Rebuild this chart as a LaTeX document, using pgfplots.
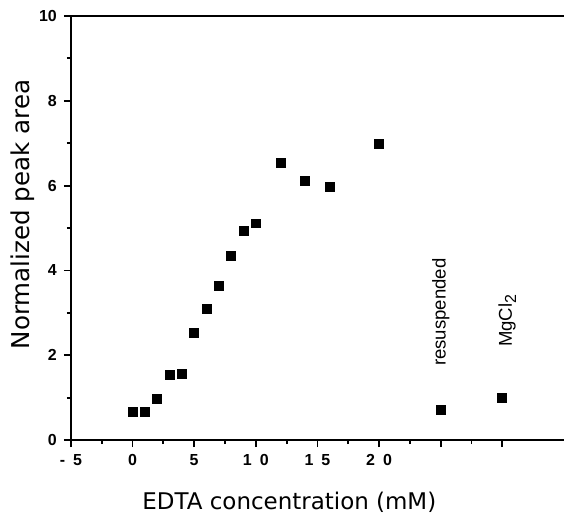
\documentclass[border=0pt]{standalone}
\usepackage{fontspec}
\setmainfont{Liberation Sans}
\newfontfamily\labfont{DejaVu Sans}
\usepackage{pgfplots}
\pgfplotsset{compat=1.18}

\begin{document}
\begin{tikzpicture}
\begin{axis}[
  width=247pt, height=212.5pt, scale only axis,
  xmin=-5, xmax=35, ymin=0, ymax=10,
  axis lines=left, axis line style={-, line width=1pt},
  clip=false,
  tick align=outside, major tick length=3.5pt, minor tick length=2pt,
  every tick/.style={line width=0.9pt, black},
  xtick={-5,0,5,10,15,20,25,30},
  xticklabels={-\enspace5, 0, 5, 1\enspace0, 1\enspace5, 2\enspace0, {}, {}},
  minor x tick num=1,
  ytick={0,2,4,6,8,10},
  yticklabels={0,2,4,6,8,10},
  minor y tick num=1,
  tick label style={font=\fontsize{8}{9}\selectfont\bfseries},
  xlabel={EDTA concentration (mM)},
  ylabel={Normalized peak area},
  xlabel style={font=\labfont\fontsize{11.5}{13}\selectfont,
    at={(axis description cs:0.443,-0.146)}, anchor=center},
  ylabel style={font=\labfont\fontsize{12.3}{14}\selectfont,
    at={(axis description cs:-0.097,0.532)}, anchor=center},
]
\addplot[only marks, mark=square*, mark size=2.25pt, black] coordinates {
  (0,0.66) (1,0.66) (2,0.97) (3,1.54) (4,1.56) (5,2.52) (6,3.10)
  (7,3.63) (8,4.34) (9,4.94) (10,5.11) (12,6.54) (14,6.11) (16,5.98)
  (20,6.99) (25,0.71) (30,1.00)
};
\draw[line width=1pt] (rel axis cs:0,1) -- (rel axis cs:1,1);
\node[rotate=90, anchor=west, inner sep=0pt, font=\fontsize{9.3}{11}\selectfont]
  at (axis cs:25,1.74) {resuspended};
\node[rotate=90, anchor=west, inner sep=0pt, font=\fontsize{9.3}{11}\selectfont]
  at (axis cs:30.4,2.19) {MgCl\raisebox{-0.45ex}{\fontsize{8}{9}\selectfont 2}};
\path (rel axis cs:-0.1437,-0.181) rectangle (rel axis cs:1,1.0376);
\end{axis}
\end{tikzpicture}
\end{document}
